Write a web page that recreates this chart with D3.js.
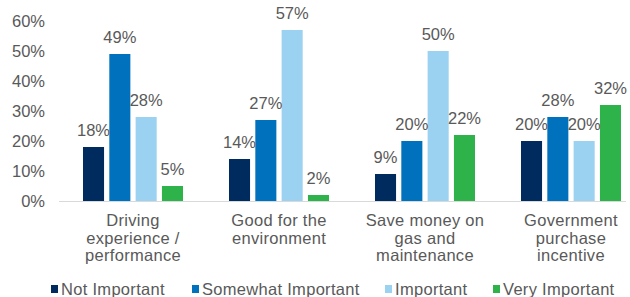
<!DOCTYPE html>
<html>
<head>
<meta charset="utf-8">
<script src="https://cdn.jsdelivr.net/npm/d3@7"></script>
<style>
  body { margin: 0; background: #fff; }
  text { font-family: "Liberation Sans", Arial, sans-serif; fill: #595959; }
</style>
</head>
<body>
<div id="chart"></div>
<script>
var categories = [
  ["Driving", "experience /", "performance"],
  ["Good for the", "environment"],
  ["Save money on", "gas and", "maintenance"],
  ["Government", "purchase", "incentive"]
]
var seriesNames = ["Not Important", "Somewhat Important", "Important", "Very Important"]
var seriesColors = ["#002B5E", "#0072BD", "#9CD2F1", "#2EB34B"]
var notImportant = [18, 14, 9, 20]
var somewhatImportant = [49, 27, 20, 28]
var important = [28, 57, 50, 20]
var veryImportant = [5, 2, 22, 32]
var yTicks = [0, 10, 20, 30, 40, 50, 60]

var values = [notImportant, somewhatImportant, important, veryImportant]

var width = 630, height = 297
var fs = 16.5

var svg = d3.select("#chart").append("svg")
  .attr("width", width)
  .attr("height", height)

var x = d3.scaleBand()
  .domain(d3.range(categories.length))
  .range([60, 644])
  .paddingInner(0.315)
  .paddingOuter(0.1575)

var xs = d3.scaleBand()
  .domain(d3.range(seriesNames.length))
  .range([0, x.bandwidth()])
  .paddingInner(0.2)

var y = d3.scaleLinear()
  .domain([0, 60])
  .range([201, 21])

// y labels
svg.append("g")
  .selectAll("text")
  .data(yTicks)
  .join("text")
  .attr("x", 45)
  .attr("y", d => y(d))
  .attr("dy", "0.36em")
  .attr("text-anchor", "end")
  .style("font-size", fs + "px")
  .text(d => d + "%")

// axis line
svg.append("line")
  .attr("x1", 59).attr("x2", 626)
  .attr("y1", y(0) + 0.5).attr("y2", y(0) + 0.5)
  .attr("stroke", "#d9d9d9")
  .attr("stroke-width", 1)

var rows = []
values.forEach(function (s, si) {
  s.forEach(function (v, ci) {
    rows.push({ s: si, c: ci, v: v })
  })
})

svg.append("g")
  .selectAll("rect")
  .data(rows)
  .join("rect")
  .attr("x", d => x(d.c) + xs(d.s))
  .attr("y", d => y(d.v))
  .attr("width", xs.bandwidth())
  .attr("height", d => y(0) - y(d.v))
  .attr("fill", d => seriesColors[d.s])

svg.append("g")
  .selectAll("text")
  .data(rows)
  .join("text")
  .attr("x", d => x(d.c) + xs(d.s) + xs.bandwidth() / 2)
  .attr("y", d => y(d.v) - 11)
  .attr("text-anchor", "middle")
  .style("font-size", fs + "px")
  .text(d => d.v + "%")

// category labels
var cat = svg.append("g")
  .selectAll("text")
  .data(categories)
  .join("text")
  .attr("text-anchor", "middle")
  .style("font-size", fs + "px")
  .style("letter-spacing", "0.3px")

cat.selectAll("tspan")
  .data((d, i) => d.map(t => ({ t: t, i: i })))
  .join("tspan")
  .attr("x", d => x(d.i) + x.bandwidth() / 2)
  .attr("y", (d, j) => 226 + j * 17.5)
  .text(d => d.t)

// legend
var legendX = [51, 192, 385, 493]
var legend = svg.append("g")
  .selectAll("g")
  .data(seriesNames)
  .join("g")
  .attr("transform", (d, i) => `translate(${legendX[i]},289)`)

legend.append("rect")
  .attr("x", 0).attr("y", -4)
  .attr("width", 7).attr("height", 8)
  .attr("fill", (d, i) => seriesColors[i])

legend.append("text")
  .attr("x", 10)
  .attr("dy", "0.36em")
  .style("font-size", fs + "px")
  .style("letter-spacing", "0.3px")
  .text(d => d)
</script>
</body>
</html>
